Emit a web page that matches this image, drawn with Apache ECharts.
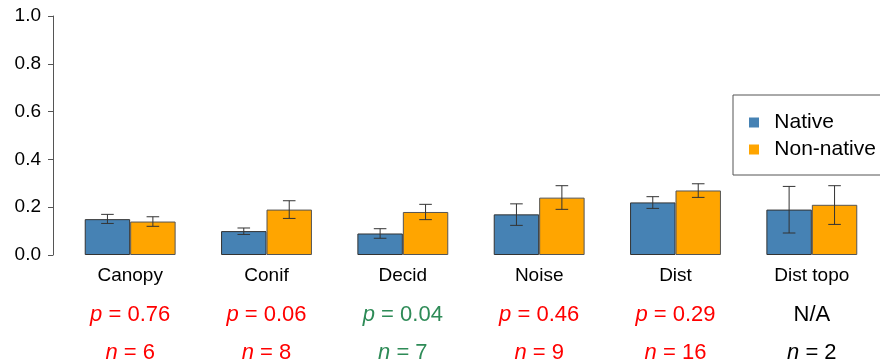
<!DOCTYPE html>
<html>
<head>
<meta charset="utf-8">
<script src="https://cdn.jsdelivr.net/npm/echarts@6/dist/echarts.min.js"></script>
<style>
html,body{margin:0;padding:0;background:#fff;}
#chart{width:880px;height:364px;}
</style>
</head>
<body>
<div id="chart"></div>
<script>
var categories = ['Canopy', 'Conif', 'Decid', 'Noise', 'Dist', 'Dist topo'];
var nativeMean = [0.15, 0.10, 0.09, 0.17, 0.22, 0.19];
var nativeLow = [0.132, 0.086, 0.070, 0.124, 0.195, 0.092];
var nativeHigh = [0.170, 0.113, 0.110, 0.214, 0.244, 0.287];
var nonNativeMean = [0.14, 0.19, 0.18, 0.24, 0.27, 0.21];
var nonNativeLow = [0.120, 0.153, 0.148, 0.191, 0.241, 0.128];
var nonNativeHigh = [0.160, 0.227, 0.212, 0.290, 0.298, 0.290];
var pValues = ['0.76', '0.06', '0.04', '0.46', '0.29', null];
var nValues = [6, 8, 7, 9, 16, 2];
var yTicks = [0, 0.2, 0.4, 0.6, 0.8, 1.0];

var FONT = '"Liberation Sans", Arial, sans-serif';
var BLUE = '#4682B4', ORANGE = '#FFA500';

function colorKey(i) {
  if (pValues[i] === null) return 'k';
  return parseFloat(pValues[i]) < 0.05 ? 'g' : 'r';
}
var richStyles = {
  r: {color: '#FF0000', fontSize: 22, fontFamily: FONT},
  rI: {color: '#FF0000', fontSize: 22, fontFamily: FONT, fontStyle: 'italic'},
  g: {color: '#2E8B57', fontSize: 22, fontFamily: FONT},
  gI: {color: '#2E8B57', fontSize: 22, fontFamily: FONT, fontStyle: 'italic'},
  k: {color: '#000000', fontSize: 22, fontFamily: FONT},
  kI: {color: '#000000', fontSize: 22, fontFamily: FONT, fontStyle: 'italic'}
};

function errRender(sign) {
  return function (params, api) {
    var i = api.value(0);
    var band = api.size([1, 0])[0];
    var dx = sign * band / 6;
    var top = api.coord([i, api.value(2)]);
    var bot = api.coord([i, api.value(1)]);
    var x = top[0] + dx;
    var hw = 6.3;
    var st = {stroke: '#333333', lineWidth: 1};
    return {
      type: 'group',
      children: [
        {type: 'line', shape: {x1: x, y1: top[1], x2: x, y2: bot[1]}, style: st},
        {type: 'line', shape: {x1: x - hw, y1: top[1], x2: x + hw, y2: top[1]}, style: st},
        {type: 'line', shape: {x1: x - hw, y1: bot[1], x2: x + hw, y2: bot[1]}, style: st}
      ]
    };
  };
}

function hiddenCatAxis(margin, formatter) {
  return {
    type: 'category', data: categories, position: 'bottom', gridIndex: 0,
    axisLine: {show: false}, axisTick: {show: false}, splitLine: {show: false},
    axisLabel: {margin: margin, interval: 0, formatter: formatter, rich: richStyles,
      fontSize: 22, fontFamily: FONT, lineHeight: 22, verticalAlign: 'top'}
  };
}

var chart = echarts.init(document.getElementById('chart'), null, {renderer: 'canvas'});
chart.setOption({
  animation: false,
  backgroundColor: '#ffffff',
  grid: {left: 62, top: 16, width: 819, height: 239, containLabel: false},
  legend: {
    data: ['Native', 'Non-native'],
    orient: 'vertical', left: 733, top: 95,
    padding: [17, 12, 15, 16],
    itemGap: 6, itemWidth: 30.6, itemHeight: 10,
    icon: 'path://M0,0h10v10h-10z',
    symbolKeepAspect: true,
    borderColor: '#555555', borderWidth: 1, borderRadius: 0,
    backgroundColor: '#ffffff',
    itemStyle: {borderWidth: 0},
    textStyle: {fontSize: 21, fontFamily: FONT, color: '#000', lineHeight: 21}
  },
  xAxis: [
    {
      type: 'category', data: categories, position: 'bottom',
      axisLine: {show: false}, axisTick: {show: false}, splitLine: {show: false},
      axisLabel: {margin: 11, interval: 0, fontSize: 19, fontFamily: FONT, color: '#000', lineHeight: 19, verticalAlign: 'top'}
    },
    hiddenCatAxis(49, function (v, i) {
      var k = colorKey(i);
      if (pValues[i] === null) return '{k|N/A}';
      return '{' + k + 'I|p}{' + k + '| = ' + pValues[i] + '}';
    }),
    hiddenCatAxis(87, function (v, i) {
      var k = colorKey(i);
      return '{' + k + 'I|n}{' + k + '| = ' + nValues[i] + '}';
    })
  ],
  yAxis: {
    type: 'value', min: 0, max: 1, interval: 0.2, offset: 9,
    axisLine: {show: true, lineStyle: {color: '#555555', width: 1}},
    axisTick: {show: true, length: 5, lineStyle: {color: '#555555'}},
    splitLine: {show: false},
    axisLabel: {margin: 12, fontSize: 19, fontFamily: FONT, color: '#000',
      formatter: function (v) { return v.toFixed(1); }}
  },
  series: [
    {
      name: 'Native', type: 'bar', xAxisIndex: 0, data: nativeMean,
      barWidth: '33.333%', barGap: '0%',
      itemStyle: {color: BLUE, borderColor: '#333333', borderWidth: 1}
    },
    {
      name: 'Non-native', type: 'bar', xAxisIndex: 0, data: nonNativeMean,
      barWidth: '33.333%', barGap: '0%',
      itemStyle: {color: ORANGE, borderColor: '#555555', borderWidth: 1}
    },
    {
      name: 'nativeErr', type: 'custom', xAxisIndex: 0, z: 5,
      renderItem: errRender(-1),
      encode: {x: 0, y: [1, 2]},
      data: categories.map(function (c, i) { return [i, nativeLow[i], nativeHigh[i]]; })
    },
    {
      name: 'nonNativeErr', type: 'custom', xAxisIndex: 0, z: 5,
      renderItem: errRender(1),
      encode: {x: 0, y: [1, 2]},
      data: categories.map(function (c, i) { return [i, nonNativeLow[i], nonNativeHigh[i]]; })
    }
  ]
});
</script>
</body>
</html>
